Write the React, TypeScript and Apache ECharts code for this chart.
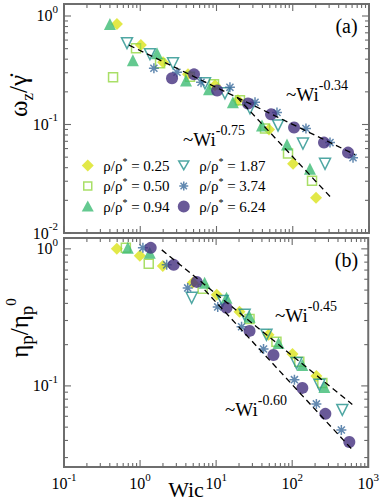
import React, { useEffect, useRef } from "react";
import * as echarts from "echarts";

const FONT = "Liberation Serif";

// Legend names (rho / rho*)
const densities = ["0.25", "0.50", "0.94", "1.87", "3.74", "6.24"];

// Panel (a): omega_z / gamma-dot versus Wic   [Wic, value]
const a025 = [[0.495, 0.843], [1.02, 0.539], [1.99, 0.375], [4.23, 0.29], [9.55, 0.23], [19.1, 0.167], [48.8, 0.0899], [101, 0.0435], [202, 0.0211]];
const a050 = [[0.44, 0.272], [0.88, 0.505], [1.82, 0.367], [4.49, 0.275], [9.27, 0.235], [20.3, 0.167], [43.3, 0.0918], [86.7, 0.0539], [179, 0.0303]];
const a094 = [[0.4, 0.843], [0.8, 0.391], [1.66, 0.454], [3.98, 0.255], [7.98, 0.211], [16.4, 0.16], [39.5, 0.098], [84.1, 0.0653], [168, 0.0391]];
const a187 = [[0.67, 0.562], [1.34, 0.445], [2.69, 0.367], [7.06, 0.24], [12.9, 0.194], [27.5, 0.141], [64.1, 0.098], [136, 0.0667], [265, 0.0435]];
const a374 = [[1.51, 0.33], [3.03, 0.303], [6.27, 0.245], [15.0, 0.22], [32.0, 0.16], [62.1, 0.129], [149, 0.0918], [308, 0.0681], [617, 0.0495]];
const a624 = [[2.61, 0.267], [5.07, 0.29], [10.2, 0.206], [25.9, 0.156], [51.9, 0.124], [104, 0.0938], [257, 0.0681], [531, 0.0551]];

// Panel (b): eta_p / eta_p^0 versus Wic
const b025 = [[0.495, 1.0], [0.992, 0.889], [1.99, 0.751], [4.92, 0.565], [10.2, 0.462], [20.3, 0.347], [48.8, 0.236], [101, 0.171], [208, 0.118]];
const b050 = [[0.65, 1.017], [1.3, 0.777], [6.65, 0.511], [27.5, 0.308], [62.1, 0.21], [124, 0.15], [249, 0.105]];
const b094 = [[0.69, 1.017], [1.34, 0.935], [7.06, 0.565], [13.7, 0.439], [27.5, 0.319], [66.1, 0.206], [136, 0.142], [265, 0.0983]];
const b187 = [[4.77, 0.439], [12.2, 0.417], [23.7, 0.33], [45.9, 0.236], [114, 0.147], [228, 0.102], [456, 0.0668]];
const b374 = [[1.09, 1.017], [2.24, 0.764], [4.23, 0.519], [10.5, 0.377], [21.6, 0.27], [42.0, 0.186], [107, 0.111], [208, 0.0739], [443, 0.0477]];
const b624 = [[1.38, 1.017], [2.77, 0.764], [5.55, 0.574], [13.7, 0.371], [27.5, 0.252], [56.7, 0.168], [136, 0.0967], [273, 0.0625], [564, 0.039]];

// Power-law guide lines (end points)
const fitA034 = [[0.711, 0.539], [655, 0.0528]];
const fitA075 = [[18.6, 0.178], [308, 0.0217]];
const fitB045 = [[1.93, 0.983], [617, 0.0733]];
const fitB060 = [[7.06, 0.502], [598, 0.0349]];

// Axis ranges / ticks
const xRange = [0.1, 1000];
const yRangeA = [0.01, 1.29];
const yRangeB = [0.0256, 1.2];
const xMajor = [0.1, 1, 10, 100, 1000];
const yMajorA = [0.01, 0.1, 1];
const yMajorB = [0.1, 1];

const colors = ["#dbe21a", "#93d741", "#3dbb74", "#23918c", "#3b6c9c", "#432f7e"];
const STAR = "path://M5,0L5,10M0,5L10,5M1.46,1.46L8.54,8.54M1.46,8.54L8.54,1.46";
const TRI_DOWN = "path://M0,0L10,0L5,8.66Z";
const symbols = ["diamond", "rect", "triangle", TRI_DOWN, STAR, "circle"];
const symbolSizes = [12, 9, 12, 11, 10, 12];
// legend icons (padded boxes so every icon keeps its marker size)
const legendIcons = [
  "path://M0,0M13,13M6.5,0.5L12.5,6.5L6.5,12.5L0.5,6.5Z",
  "path://M0,0M13,13M2.5,2.5L10.5,2.5L10.5,10.5L2.5,10.5Z",
  "path://M0,0M13,13M6.5,0.5L12.5,11.5L0.5,11.5Z",
  "path://M0,0M13,13M1.5,2L11.5,2L6.5,10.7Z",
  "path://M0,0M13,13M6.5,2L6.5,11M2,6.5L11,6.5M3.3,3.3L9.7,9.7M3.3,9.7L9.7,3.3",
  "path://M0,0M13,13M0.5,6.5A6,6,0,1,1,12.5,6.5A6,6,0,1,1,0.5,6.5Z",
];

function minorTicks(lo: number, hi: number): number[] {
  const out: number[] = [];
  for (let e = -3; e <= 3; e++) {
    for (let k = 2; k <= 9; k++) {
      const v = k * Math.pow(10, e);
      if (v > lo * 1.0001 && v < hi * 0.9999) out.push(v);
    }
  }
  return out;
}

function tickSeries(grid: number, yr: number[], yMajor: number[]) {
  const data: number[][] = [];
  xMajor.forEach((v) => data.push([v, yr[0], 0, 7]));
  minorTicks(xRange[0], xRange[1]).forEach((v) => data.push([v, yr[0], 0, 4]));
  yMajor.forEach((v) => data.push([xRange[0], v, 1, 7]));
  minorTicks(yr[0], yr[1]).forEach((v) => data.push([xRange[0], v, 1, 4]));
  const style = { stroke: "#6a6a6a", lineWidth: 1.1 };
  return {
    type: "custom",
    xAxisIndex: grid,
    yAxisIndex: grid,
    silent: true,
    clip: false,
    z: 6,
    encode: { x: 0, y: 1 },
    data,
    renderItem: (_p: any, api: any) => {
      const kind = api.value(2);
      const len = api.value(3);
      if (kind === 0) {
        const v = api.value(0);
        const p1 = api.coord([v, yr[0]]);
        const p2 = api.coord([v, yr[1]]);
        return {
          type: "group",
          children: [
            { type: "line", shape: { x1: p1[0], y1: p1[1], x2: p1[0], y2: p1[1] - len }, style },
            { type: "line", shape: { x1: p2[0], y1: p2[1], x2: p2[0], y2: p2[1] + len }, style },
          ],
        };
      }
      const v = api.value(1);
      const p1 = api.coord([xRange[0], v]);
      const p2 = api.coord([xRange[1], v]);
      return {
        type: "group",
        children: [
          { type: "line", shape: { x1: p1[0], y1: p1[1], x2: p1[0] + len, y2: p1[1] }, style },
          { type: "line", shape: { x1: p2[0], y1: p2[1], x2: p2[0] - len, y2: p2[1] }, style },
        ],
      };
    },
  };
}

function markerStyle(i: number): any {
  const c = colors[i];
  if (i === 1 || i === 3 || i === 4) return { color: "rgba(255,255,255,0)", borderColor: c, borderWidth: 1.5 };
  return { color: c };
}

function scatter(i: number, data: number[][], grid: number) {
  return {
    type: "scatter",
    name: densities[i],
    xAxisIndex: grid,
    yAxisIndex: grid,
    data,
    symbol: symbols[i],
    symbolSize: symbolSizes[i],
    itemStyle: markerStyle(i),
    z: 3,
  };
}

function fitLine(data: number[][], grid: number) {
  return {
    type: "line",
    xAxisIndex: grid,
    yAxisIndex: grid,
    data,
    symbol: "none",
    silent: true,
    z: 5,
    lineStyle: { color: "#000", width: 1.3, type: [6, 4] },
  };
}

const powLabel = (v: number) => {
  const e = Math.log10(v);
  const r = Math.round(e);
  return Math.abs(e - r) < 1e-6 ? `{b|10}{s|${r}}` : "";
};
const labelRich = {
  b: { fontSize: 16, fontFamily: FONT, color: "#000" },
  s: { fontSize: 11, fontFamily: FONT, color: "#000", padding: [0, 0, 14, 0] },
};
const legendRich = {
  a: { fontSize: 15, fontFamily: FONT, color: "#000" },
  s: { fontSize: 10, fontFamily: FONT, color: "#000", padding: [0, 0, 9, 0] },
};

function annotation(x: number, y: number, exp: string) {
  return {
    type: "text",
    x,
    y,
    z: 10,
    style: {
      text: `{m|~Wi}{s|${exp}}`,
      align: "left",
      verticalAlign: "middle",
      rich: {
        m: { fontSize: 19, fontFamily: FONT, fill: "#000" },
        s: { fontSize: 14, fontFamily: FONT, fill: "#000", padding: [0, 0, 17, 0] },
      },
    },
  };
}

function legendCol(names: number[], left: number) {
  return {
    data: names.map((i) => ({ name: densities[i], icon: legendIcons[i], itemStyle: markerStyle(i) })),
    orient: "vertical",
    left,
    top: 156,
    padding: 0,
    itemWidth: 13,
    itemHeight: 13,
    itemGap: 3.5,
    selectedMode: false,
    formatter: (n: string) => `{a|ρ/ρ}{s|*}{a| = ${n}}`,
    textStyle: { rich: legendRich, padding: [0, 0, 0, 4] },
  };
}

function buildOption(): any {
  const xBase = {
    type: "log",
    logBase: 10,
    min: xRange[0],
    max: xRange[1],
    axisLine: { show: false },
    axisTick: { show: false },
    splitLine: { show: false },
  };
  const yBase = {
    type: "log",
    logBase: 10,
    axisLine: { show: false },
    axisTick: { show: false },
    splitLine: { show: false },
    axisLabel: { formatter: powLabel, rich: labelRich, margin: 6, fontFamily: FONT },
  };
  const gridStyle = { show: true, borderColor: "#6e6e6e", borderWidth: 2, backgroundColor: "rgba(0,0,0,0)" };
  return {
    animation: false,
    backgroundColor: "#fff",
    textStyle: { fontFamily: FONT },
    grid: [
      { left: 64, top: 4, width: 305, height: 229, ...gridStyle },
      { left: 64, top: 238, width: 305, height: 229, ...gridStyle },
    ],
    xAxis: [
      { ...xBase, gridIndex: 0, axisLabel: { show: false } },
      { ...xBase, gridIndex: 1, axisLabel: { formatter: powLabel, rich: labelRich, margin: 4, fontFamily: FONT } },
    ],
    yAxis: [
      { ...yBase, gridIndex: 0, min: yRangeA[0], max: yRangeA[1] },
      { ...yBase, gridIndex: 1, min: yRangeB[0], max: yRangeB[1] },
    ],
    legend: [legendCol([0, 1, 2], 80.5), legendCol([3, 4, 5], 176.5)],
    graphic: [
      {
        type: "text",
        x: 18,
        y: 96,
        rotation: Math.PI / 2,
        style: {
          text: "{m|ω}{sub|z}{m|/γ̇}",
          align: "center",
          verticalAlign: "middle",
          fontFamily: FONT,
          rich: {
            m: { fontSize: 25, fontFamily: FONT, fill: "#000" },
            sub: { fontSize: 17, fontFamily: FONT, fill: "#000", padding: [18, 0, 0, 0] },
          },
        },
      },
      {
        type: "text",
        x: 19,
        y: 328,
        rotation: Math.PI / 2,
        style: {
          text: "{m|η}{sub|p}{m|/η}{sub|p}{sup|0}",
          align: "center",
          verticalAlign: "middle",
          fontFamily: FONT,
          rich: {
            m: { fontSize: 25, fontFamily: FONT, fill: "#000" },
            sub: { fontSize: 19, fontFamily: FONT, fill: "#000", padding: [14, 0, 0, 0] },
            sup: { fontSize: 15, fontFamily: FONT, fill: "#000", padding: [0, 0, 16, 0] },
          },
        },
      },
      {
        type: "text",
        x: 186,
        y: 489,
        style: { text: "Wic", fontSize: 22, fontFamily: FONT, fill: "#000", align: "center", verticalAlign: "middle" },
      },
      {
        type: "text",
        x: 346.5,
        y: 26,
        style: { text: "(a)", fontSize: 20, fontFamily: FONT, fill: "#000", align: "center", verticalAlign: "middle" },
      },
      {
        type: "text",
        x: 346.5,
        y: 260,
        style: { text: "(b)", fontSize: 20, fontFamily: FONT, fill: "#000", align: "center", verticalAlign: "middle" },
      },
      annotation(286, 94, "-0.34"),
      annotation(183, 139, "-0.75"),
      annotation(275, 315, "-0.45"),
      annotation(225, 409, "-0.60"),
    ],
    series: [
      tickSeries(0, yRangeA, yMajorA),
      tickSeries(1, yRangeB, yMajorB),
      scatter(0, a025, 0),
      scatter(1, a050, 0),
      scatter(2, a094, 0),
      scatter(3, a187, 0),
      scatter(4, a374, 0),
      scatter(5, a624, 0),
      scatter(0, b025, 1),
      scatter(1, b050, 1),
      scatter(2, b094, 1),
      scatter(3, b187, 1),
      scatter(4, b374, 1),
      scatter(5, b624, 1),
      fitLine(fitA034, 0),
      fitLine(fitA075, 0),
      fitLine(fitB045, 1),
      fitLine(fitB060, 1),
    ],
  };
}

export default function App() {
  const ref = useRef<HTMLDivElement>(null);
  useEffect(() => {
    const chart = echarts.init(ref.current!, null, { renderer: "svg" });
    chart.setOption(buildOption());
    return () => chart.dispose();
  }, []);
  return (
    <div
      ref={ref}
      style={{ position: "absolute", left: 0, top: 0, width: 382, height: 500, background: "#fff" }}
    />
  );
}
